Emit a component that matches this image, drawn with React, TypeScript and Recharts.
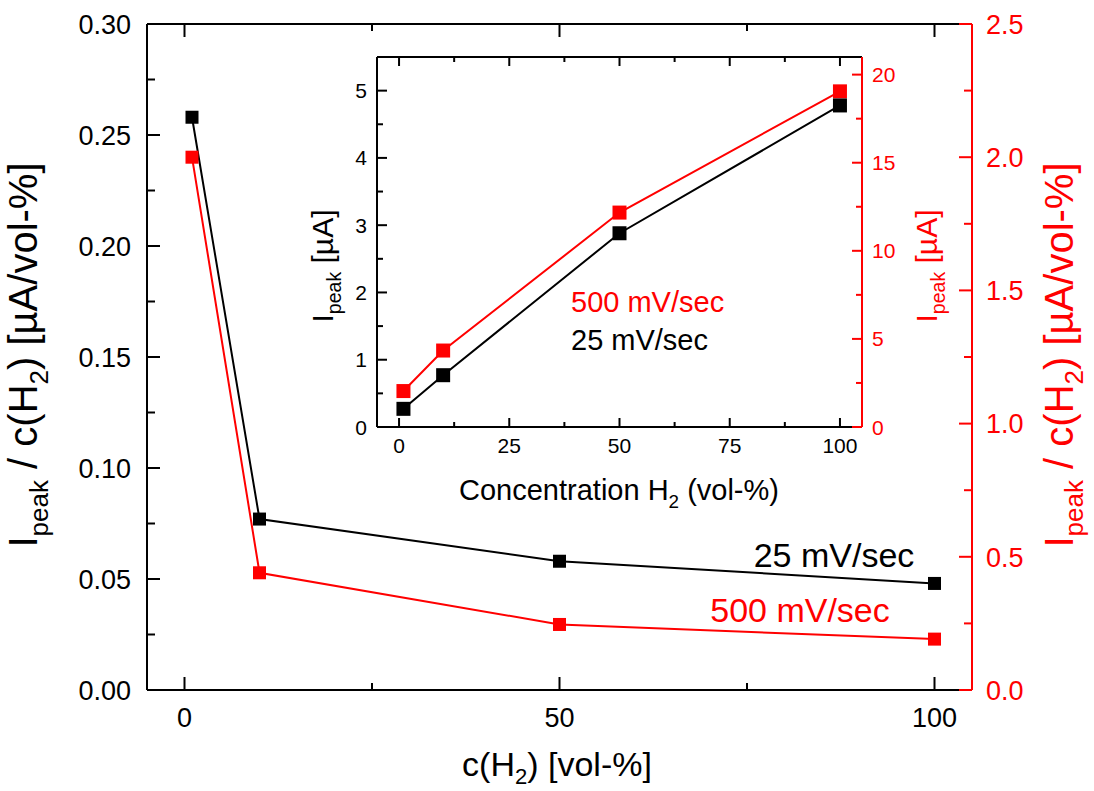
import React from 'react';
import { LineChart, Line, XAxis, YAxis, ReferenceLine } from 'recharts';

// ---------- data ----------
const conc = [1, 10, 50, 100];
const ratio25 = [0.258, 0.077, 0.058, 0.048];
const ratio500 = [2.0, 0.44, 0.246, 0.191];
const ipeak25 = [0.27, 0.77, 2.88, 4.78];
const ipeak500 = [2.04, 4.34, 12.17, 19.05];

// ---------- ticks ----------
const mainLeftMajor = [0, 0.05, 0.1, 0.15, 0.2, 0.25, 0.3];
const mainLeftMinor = [0.025, 0.075, 0.125, 0.175, 0.225, 0.275];
const mainRightMajor = [0, 0.5, 1.0, 1.5, 2.0, 2.5];
const mainRightMinor = [0.25, 0.75, 1.25, 1.75, 2.25];
const mainXMajor = [0, 50, 100];
const mainXMinor = [25, 75];
const insetLeftMajor = [0, 1, 2, 3, 4, 5];
const insetLeftMinor = [0.5, 1.5, 2.5, 3.5, 4.5];
const insetRightMajor = [0, 5, 10, 15, 20];
const insetRightMinor = [2.5, 7.5, 12.5, 17.5];
const insetXMajor = [0, 25, 50, 75, 100];
const insetXMinor = [12.5, 37.5, 62.5, 87.5];

const RED = '#ff0000';
const FONT = "Arial, 'Liberation Sans', sans-serif";

const mainData = conc.map((c, i) => ({ c, r25: ratio25[i], r500: ratio500[i] }));
const insetData = conc.map((c, i) => ({ c, i25: ipeak25[i], i500: ipeak500[i] }));

const allTicks = (a: number[], b: number[]) => [...a, ...b].sort((p, q) => p - q);

type TickOpts = {
  side: 'left' | 'right' | 'bottom' | 'top';
  major: number[];
  len: number;
  minorLen: number;
  color: string;
  fs: number;
  gap: number;
  fmt?: (v: number) => string;
  sw?: number;
};

const makeTick = (o: TickOpts) => (props: any) => {
  const { x, y, payload } = props;
  const v = payload.value as number;
  const isMajor = o.major.some((m) => Math.abs(m - v) < 1e-9);
  const L = isMajor ? o.len : o.minorLen;
  const sw = o.sw ?? 2;
  let line: any;
  let label: any = null;
  const txt = o.fmt ? o.fmt(v) : String(v);
  if (o.side === 'left') {
    line = <line x1={x} y1={y} x2={x + L} y2={y} stroke={o.color} strokeWidth={sw} />;
    if (isMajor && o.fmt)
      label = (
        <text x={x - o.gap} y={y + o.fs * 0.36} textAnchor="end" fontSize={o.fs} fill={o.color} fontFamily={FONT}>
          {txt}
        </text>
      );
  } else if (o.side === 'right') {
    line = <line x1={x} y1={y} x2={x - L} y2={y} stroke={o.color} strokeWidth={sw} />;
    if (isMajor && o.fmt)
      label = (
        <text x={x + o.gap} y={y + o.fs * 0.36} textAnchor="start" fontSize={o.fs} fill={o.color} fontFamily={FONT}>
          {txt}
        </text>
      );
  } else if (o.side === 'bottom') {
    line = <line x1={x} y1={y} x2={x} y2={y - L} stroke={o.color} strokeWidth={sw} />;
    if (isMajor && o.fmt)
      label = (
        <text x={x} y={y + o.gap} textAnchor="middle" fontSize={o.fs} fill={o.color} fontFamily={FONT}>
          {txt}
        </text>
      );
  } else {
    line = <line x1={x} y1={y} x2={x} y2={y + L} stroke={o.color} strokeWidth={sw} />;
  }
  return (
    <g>
      {line}
      {label}
    </g>
  );
};

const squareDot = (color: string, size: number) => (p: any) => {
  if (p.cx == null || p.cy == null) return <g key={p.index} />;
  return <rect key={p.index} x={p.cx - size / 2} y={p.cy - size / 2} width={size} height={size} fill={color} />;
};

type Part = [string, boolean];
function SubText(props: {
  x: number;
  y: number;
  parts: Part[];
  fs: number;
  color: string;
  anchor?: 'start' | 'middle' | 'end';
  rotate?: number;
  shiftK?: number;
}) {
  const { x, y, parts, fs, color, anchor = 'middle', rotate = 0, shiftK = 0.28 } = props;
  const sub = fs * 0.65;
  const shift = fs * shiftK;
  let down = false;
  const kids = parts.map(([t, isSub], i) => {
    let dy = 0;
    if (isSub && !down) {
      dy = shift;
      down = true;
    } else if (!isSub && down) {
      dy = -shift;
      down = false;
    }
    return (
      <tspan key={i} dy={dy} fontSize={isSub ? sub : fs}>
        {t}
      </tspan>
    );
  });
  return (
    <text
      transform={`translate(${x},${y}) rotate(${rotate})`}
      textAnchor={anchor}
      fill={color}
      fontSize={fs}
      fontFamily={FONT}
      style={{ whiteSpace: 'pre' }}
    >
      {kids}
    </text>
  );
}

export default function App() {
  return (
    <div style={{ position: 'absolute', left: 0, top: 0, width: 1094, height: 791, background: '#fff' }}>
      {/* main chart */}
      <div style={{ position: 'absolute', left: 0, top: 0 }}>
        <LineChart width={1094} height={791} data={mainData} margin={{ top: 23, right: 42, left: 47, bottom: 41 }}>
          <XAxis
            xAxisId="b"
            type="number"
            dataKey="c"
            domain={[-5, 105]}
            ticks={allTicks(mainXMajor, mainXMinor)}
            allowDataOverflow
            height={60}
            tickSize={0}
            tickMargin={0}
            tickLine={false}
            axisLine={{ stroke: '#000', strokeWidth: 2 }}
            tick={makeTick({ side: 'bottom', major: mainXMajor, len: 13, minorLen: 7, color: '#000', fs: 27, gap: 37, fmt: (v) => String(v) })}
            interval={0}
          />
          <XAxis
            xAxisId="t"
            orientation="top"
            type="number"
            dataKey="c"
            domain={[-5, 105]}
            ticks={allTicks(mainXMajor, mainXMinor)}
            allowDataOverflow
            height={1}
            tickSize={0}
            tickMargin={0}
            tickLine={false}
            axisLine={{ stroke: '#000', strokeWidth: 2 }}
            tick={makeTick({ side: 'top', major: mainXMajor, len: 13, minorLen: 7, color: '#000', fs: 27, gap: 0 })}
            interval={0}
          />
          <YAxis
            yAxisId="l"
            type="number"
            domain={[0, 0.3]}
            ticks={allTicks(mainLeftMajor, mainLeftMinor)}
            allowDataOverflow
            width={100}
            tickSize={0}
            tickMargin={0}
            tickLine={false}
            axisLine={{ stroke: '#000', strokeWidth: 2 }}
            tick={makeTick({ side: 'left', major: mainLeftMajor, len: 13, minorLen: 8, color: '#000', fs: 27, gap: 16, fmt: (v) => v.toFixed(2) })}
            interval={0}
          />
          <YAxis
            yAxisId="r"
            orientation="right"
            type="number"
            domain={[0, 2.5]}
            ticks={allTicks(mainRightMajor, mainRightMinor)}
            allowDataOverflow
            width={80}
            tickSize={0}
            tickMargin={0}
            tickLine={false}
            axisLine={{ stroke: RED, strokeWidth: 2 }}
            tick={makeTick({ side: 'right', major: mainRightMajor, len: 13, minorLen: 8, color: RED, fs: 27, gap: 14, fmt: (v) => v.toFixed(1) })}
            interval={0}
          />
          <ReferenceLine xAxisId="b" yAxisId="r" segment={[{ x: 103.06, y: 0 }, { x: 105, y: 0 }]} stroke={RED} strokeWidth={2} />
          <ReferenceLine xAxisId="b" yAxisId="r" segment={[{ x: 103.06, y: 2.5 }, { x: 105, y: 2.5 }]} stroke={RED} strokeWidth={2} />
          <Line
            xAxisId="b"
            yAxisId="r"
            dataKey="r500"
            stroke={RED}
            strokeWidth={2}
            dot={squareDot(RED, 13)}
            activeDot={false}
            isAnimationActive={false}
          />
          <Line
            xAxisId="b"
            yAxisId="l"
            dataKey="r25"
            stroke="#000"
            strokeWidth={2}
            dot={squareDot('#000', 13)}
            activeDot={false}
            isAnimationActive={false}
          />
        </LineChart>
      </div>

      {/* inset chart */}
      <div style={{ position: 'absolute', left: 0, top: 0 }}>
        <LineChart width={1094} height={791} data={insetData} margin={{ top: 56, right: 172, left: 317, bottom: 324 }}>
          <XAxis
            xAxisId="b"
            type="number"
            dataKey="c"
            domain={[-5, 105]}
            ticks={allTicks(insetXMajor, insetXMinor)}
            allowDataOverflow
            height={40}
            tickSize={0}
            tickMargin={0}
            tickLine={false}
            axisLine={{ stroke: '#000', strokeWidth: 2 }}
            tick={makeTick({ side: 'bottom', major: insetXMajor, len: 9, minorLen: 5, color: '#000', fs: 21, gap: 26, fmt: (v) => String(v) })}
            interval={0}
          />
          <XAxis
            xAxisId="t"
            orientation="top"
            type="number"
            dataKey="c"
            domain={[-5, 105]}
            ticks={allTicks(insetXMajor, insetXMinor)}
            allowDataOverflow
            height={1}
            tickSize={0}
            tickMargin={0}
            tickLine={false}
            axisLine={{ stroke: '#000', strokeWidth: 2 }}
            tick={makeTick({ side: 'top', major: insetXMajor, len: 9, minorLen: 5, color: '#000', fs: 21, gap: 0 })}
            interval={0}
          />
          <YAxis
            yAxisId="l"
            type="number"
            domain={[0, 5.5]}
            ticks={allTicks(insetLeftMajor, insetLeftMinor)}
            allowDataOverflow
            width={60}
            tickSize={0}
            tickMargin={0}
            tickLine={false}
            axisLine={{ stroke: '#000', strokeWidth: 2 }}
            tick={makeTick({ side: 'left', major: insetLeftMajor, len: 10, minorLen: 6, color: '#000', fs: 21, gap: 10, fmt: (v) => String(v) })}
            interval={0}
          />
          <YAxis
            yAxisId="r"
            orientation="right"
            type="number"
            domain={[0, 21]}
            ticks={allTicks(insetRightMajor, insetRightMinor)}
            allowDataOverflow
            width={60}
            tickSize={0}
            tickMargin={0}
            tickLine={false}
            axisLine={{ stroke: RED, strokeWidth: 2 }}
            tick={makeTick({ side: 'right', major: insetRightMajor, len: 10, minorLen: 6, color: RED, fs: 21, gap: 10, fmt: (v) => String(v) })}
            interval={0}
          />
          <ReferenceLine xAxisId="b" yAxisId="r" segment={[{ x: 102.8, y: 0 }, { x: 105, y: 0 }]} stroke={RED} strokeWidth={2} />
          <Line
            xAxisId="b"
            yAxisId="r"
            dataKey="i500"
            stroke={RED}
            strokeWidth={2}
            dot={squareDot(RED, 14)}
            activeDot={false}
            isAnimationActive={false}
          />
          <Line
            xAxisId="b"
            yAxisId="l"
            dataKey="i25"
            stroke="#000"
            strokeWidth={2}
            dot={squareDot('#000', 14)}
            activeDot={false}
            isAnimationActive={false}
          />
        </LineChart>
      </div>

      {/* titles and annotations */}
      <svg width={1094} height={791} style={{ position: 'absolute', left: 0, top: 0, pointerEvents: 'none' }}>
        <SubText x={37} y={355} rotate={-90} fs={40} color="#000" parts={[['I', false], ['peak', true], [' / c(H', false], ['2', true], [') [µA/vol-%]', false]]} />
        <SubText x={1073} y={355} rotate={-90} fs={40} shiftK={0.24} color={RED} parts={[['I', false], ['peak', true], [' / c(H', false], ['2', true], [') [µA/vol-%]', false]]} />
        <SubText x={557} y={776} fs={34} shiftK={0.24} color="#000" parts={[['c(H', false], ['2', true], [') [vol-%]', false]]} />
        <SubText x={619} y={500} fs={29} color="#000" parts={[['Concentration H', false], ['2', true], [' (vol-%)', false]]} />
        <SubText x={333} y={266} rotate={-90} fs={30} color="#000" parts={[['I', false], ['peak', true], [' [µA]', false]]} />
        <SubText x={937} y={266} rotate={-90} fs={30} color={RED} parts={[['I', false], ['peak', true], [' [µA]', false]]} />
        <SubText x={834} y={567} fs={34} color="#000" parts={[['25 mV/sec', false]]} />
        <SubText x={800} y={622} fs={34} color={RED} parts={[['500 mV/sec', false]]} />
        <SubText x={571} y={312} fs={29} anchor="start" color={RED} parts={[['500 mV/sec', false]]} />
        <SubText x={571} y={350} fs={29} anchor="start" color="#000" parts={[['25 mV/sec', false]]} />
      </svg>
    </div>
  );
}
